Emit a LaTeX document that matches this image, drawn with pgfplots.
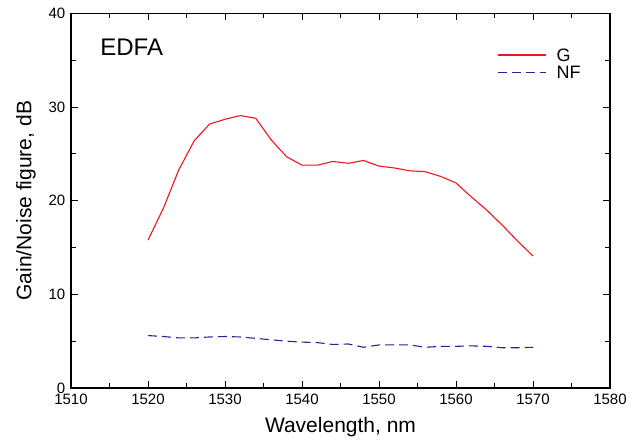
\documentclass[border=0pt]{standalone}
\usepackage{fontspec}
\setmainfont{Liberation Sans}
\usepackage{pgfplots}
\pgfplotsset{compat=1.18}
\definecolor{gred}{RGB}{240,20,30}
\definecolor{nfblue}{RGB}{35,40,150}
\begin{document}
\begin{tikzpicture}
\begin{axis}[
  scale only axis, width=539pt, height=374.5pt,
  xmin=1510, xmax=1580, ymin=0, ymax=40,
  xtick={1510,1520,...,1580}, ytick={0,10,...,40},
  minor x tick num=1, minor y tick num=1,
  tick align=inside,
  major tick length=7pt, minor tick length=5pt,
  tick style={black, line width=1pt},
  axis line style={line width=1.3pt},
  /pgf/number format/assume math mode=true,
  ticklabel style={font=\fontsize{15}{15}\selectfont, inner sep=1pt},
  xticklabel style={/pgf/number format/1000 sep={}, yshift=-5pt},
  yticklabel style={xshift=-4.5pt},
  xlabel={Wavelength, nm}, ylabel={Gain/Noise figure, dB},
  label style={font=\fontsize{21}{21}\selectfont},
  xlabel style={at={(rel axis cs:0.5,-0.12)}, anchor=base},
  ylabel style={at={(rel axis cs:-0.0835,0.5)}, anchor=center},
  legend cell align=left,
  legend image code/.code={\draw[#1] (0pt,0pt) -- (48pt,0pt);\path[draw=none,fill=none] (0pt,0pt) rectangle (58pt,0pt);},
  legend style={draw=none, fill=none, at={(rel axis cs:0.790,0.911)}, anchor=north west,
    font=\fontsize{18}{18}\selectfont, inner sep=0pt, row sep=1.5pt,
    nodes={inner sep=1pt, text height=13pt, text depth=1pt}},
]
\addplot[gred, line width=1.1pt] coordinates {
(1520,15.8) (1522,19.2) (1524,23.3) (1526,26.4) (1528,28.2) (1530,28.7) (1532,29.1)
(1534,28.8) (1536,26.5) (1538,24.7) (1540,23.8) (1542,23.8) (1544,24.2) (1546,24.0)
(1548,24.3) (1550,23.7) (1552,23.5) (1554,23.2) (1556,23.1) (1558,22.6) (1560,21.9)
(1562,20.4) (1564,19.0) (1566,17.4) (1568,15.7) (1570,14.1)};
\addlegendentry{G}
\addplot[nfblue, line width=1.1pt, dash pattern=on 9pt off 5pt] coordinates {
(1520,5.6) (1522,5.5) (1524,5.35) (1526,5.35) (1528,5.45) (1530,5.5) (1532,5.45)
(1534,5.3) (1536,5.15) (1538,5.0) (1540,4.9) (1542,4.85) (1544,4.65) (1546,4.7)
(1548,4.35) (1550,4.6) (1552,4.6) (1554,4.6) (1556,4.35) (1558,4.45) (1560,4.45)
(1562,4.5) (1564,4.45) (1566,4.3) (1568,4.3) (1570,4.35)};
\addlegendentry{NF}
\node[anchor=base west, font=\fontsize{24}{24}\selectfont] at (rel axis cs:0.048,0.889) {EDFA};
\draw[line width=2.4pt, line cap=rect] (rel axis cs:0,1) -- (rel axis cs:0,0) -- (rel axis cs:1,0);
\end{axis}
\pgfresetboundingbox
\path (-71pt,-51pt) rectangle (573pt,388pt);
\end{tikzpicture}
\end{document}
